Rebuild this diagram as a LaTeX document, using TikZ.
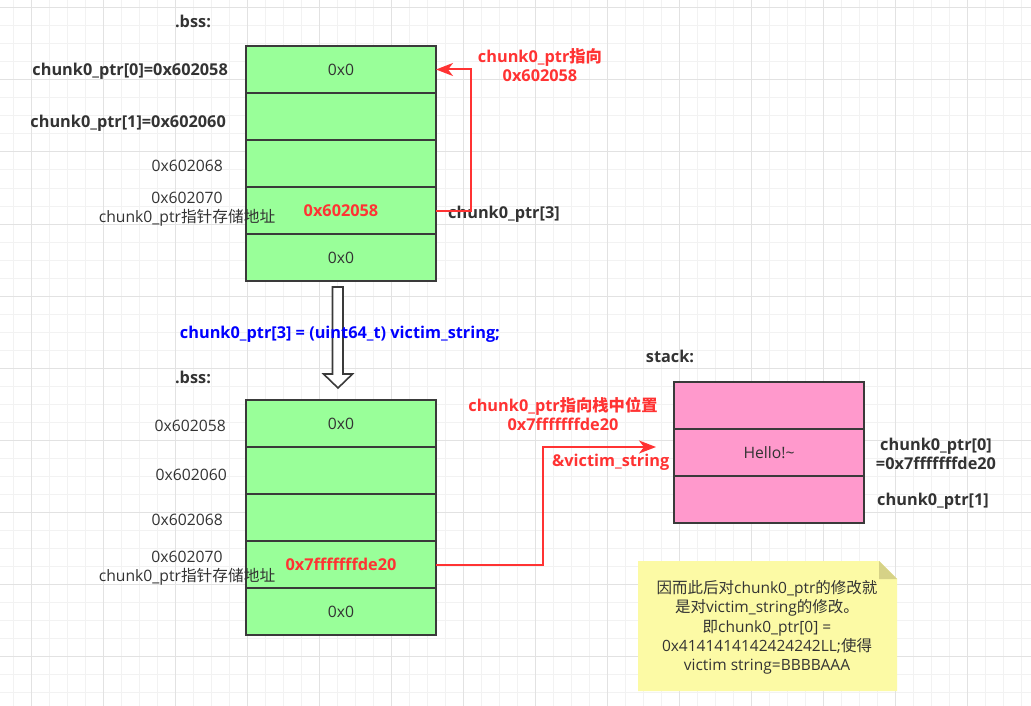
\documentclass[tikz,border=0pt]{standalone}
\usepackage{fontspec}
\setmainfont{Open Sans}
\newfontfamily\cjk{Noto Sans CJK SC}
\usetikzlibrary{arrows.meta}
\definecolor{gridminor}{RGB}{242,242,242}
\definecolor{gridmajor}{RGB}{226,226,226}
\definecolor{cellgreen}{RGB}{153,255,153}
\definecolor{cellpink}{RGB}{255,153,204}
\definecolor{cellline}{RGB}{58,58,58}
\definecolor{txt}{RGB}{51,51,51}
\definecolor{redc}{RGB}{255,51,51}
\definecolor{bluec}{RGB}{0,0,255}
\definecolor{notefill}{RGB}{252,250,165}
\definecolor{notefold}{RGB}{214,210,135}
\begin{document}
\begin{tikzpicture}[x=1pt,y=-1pt,
  font=\fontsize{15.7}{19}\selectfont,
  cell/.style={draw=cellline, line width=2pt, fill=cellgreen, minimum width=190pt, minimum height=47pt, inner sep=0pt, outer sep=0pt, text=txt},
  scell/.style={cell, fill=cellpink},
  lbl/.style={text=txt, inner sep=0pt},
  blbl/.style={text=txt, inner sep=0pt, font=\fontsize{16.3}{19.5}\selectfont\bfseries},
  rlbl/.style={text=redc, inner sep=0pt, font=\fontsize{16.3}{19}\selectfont\bfseries},
  redarrow/.style={draw=redc, line width=2pt, -{Stealth[length=17pt,width=13pt,inset=5pt]}}
]
\fill[white] (0,0) rectangle (1031,706);
\useasboundingbox (0,0) rectangle (1031,706);
% grid
\foreach \x in {13,31,...,1021} \draw[gridminor,line width=1pt] (\x,0) -- (\x,706);
\foreach \y in {8,26,...,692} \draw[gridminor,line width=1pt] (0,\y) -- (1031,\y);
\foreach \x in {31,103,...,967} \draw[gridmajor,line width=1pt] (\x,0) -- (\x,706);
\foreach \y in {8,80,...,656} \draw[gridmajor,line width=1pt] (0,\y) -- (1031,\y);

% top .bss cells
\node[cell] (t0) at (341,69.5) {0x0};
\node[cell] (t1) at (341,116.5) {};
\node[cell] (t2) at (341,163.5) {};
\node[cell] (t3) at (341,210.5) {\textcolor{redc}{\fontsize{16.3}{19}\selectfont\bfseries 0x602058}};
\node[cell] (t4) at (341,257.5) {0x0};

% bottom .bss cells
\node[cell] (u0) at (341,423.5) {0x0};
\node[cell] (u1) at (341,470.5) {};
\node[cell] (u2) at (341,517.5) {};
\node[cell] (u3) at (341,564.5) {\textcolor{redc}{\fontsize{16.3}{19}\selectfont\bfseries 0x7fffffffde20}};
\node[cell] (u4) at (341,611.5) {0x0};

% stack cells
\node[scell] (s0) at (769,405.5) {};
\node[scell] (s1) at (769,452.5) {Hello!\textasciitilde};
\node[scell] (s2) at (769,499.5) {};

% labels top
\node[blbl] (bss1) at (193,21) {.bss:};
\node[blbl, anchor=east] (p0) at (228,71) {chunk0\_ptr[0]=0x602058};
\node[blbl, anchor=east] (p1) at (226,123) {chunk0\_ptr[1]=0x602060};
\node[lbl, anchor=east] (a68) at (223,166) {0x602068};
\node[lbl, align=center] (a70) at (187,209.5) {0x602070\\chunk0\_ptr{\cjk 指针存储地址}};
\node[rlbl, align=center] (r1) at (540,65.5) {chunk0\_ptr{\cjk 指向}\\0x602058};
\node[blbl, anchor=west] (p3) at (448,214) {chunk0\_ptr[3]};

% hollow arrow
\draw[cellline, line width=1.6pt, fill=white, line join=miter]
  (332.5,287) -- (343,287) -- (343,374) -- (352.5,374) -- (338,388) -- (323.5,374) -- (332.5,374) -- cycle;
\node[inner sep=0pt, text=bluec, font=\fontsize{16.3}{19}\selectfont\bfseries] (code) at (340,334) {chunk0\_ptr[3] = (uint64\_t) victim\_string;};

% labels bottom
\node[blbl] (bss2) at (193,377) {.bss:};
\node[lbl, anchor=east] (b58) at (226,426) {0x602058};
\node[lbl, anchor=east] (b60) at (227,475) {0x602060};
\node[lbl, anchor=east] (b68) at (223,520) {0x602068};
\node[lbl, align=center] (b70) at (187,568) {0x602070\\chunk0\_ptr{\cjk 指针存储地址}};

% stack labels
\node[blbl] (stk) at (670,356) {stack:};
\node[rlbl, align=center] (r2) at (563,414) {chunk0\_ptr{\cjk 指向栈中位置}\\0x7fffffffde20};
\node[rlbl, anchor=west] (vs) at (552,462) {\&victim\_string};
\node[blbl, align=center] (sp0) at (936,454) {chunk0\_ptr[0]\\=0x7fffffffde20};
\node[blbl] (sp1) at (933,501) {chunk0\_ptr[1]};

% red arrows
\draw[redarrow] (t3.east) -- ++(35,0) |- (t0.east);
\coordinate (vtip) at (656,447);
\draw[redarrow] (u3.east) -- ++(107,0) |- (vtip);

% note
\fill[notefill] (638,561) -- (879,561) -- (897,579) -- (897,691) -- (638,691) -- cycle;
\fill[notefold] (879,561) -- (897,579) -- (879,579) -- cycle;
\node[lbl, align=center, font=\fontsize{15.5}{19.3}\selectfont] (note) at (767,627.5)
  {{\cjk 因而此后对}chunk0\_ptr{\cjk 的修改就}\\{\cjk 是对}victim\_string{\cjk 的修改。}\\{\cjk 即}chunk0\_ptr[0] =\\0x4141414142424242LL;{\cjk 使得}\\victim string=BBBBAAA};
\end{tikzpicture}
\end{document}
